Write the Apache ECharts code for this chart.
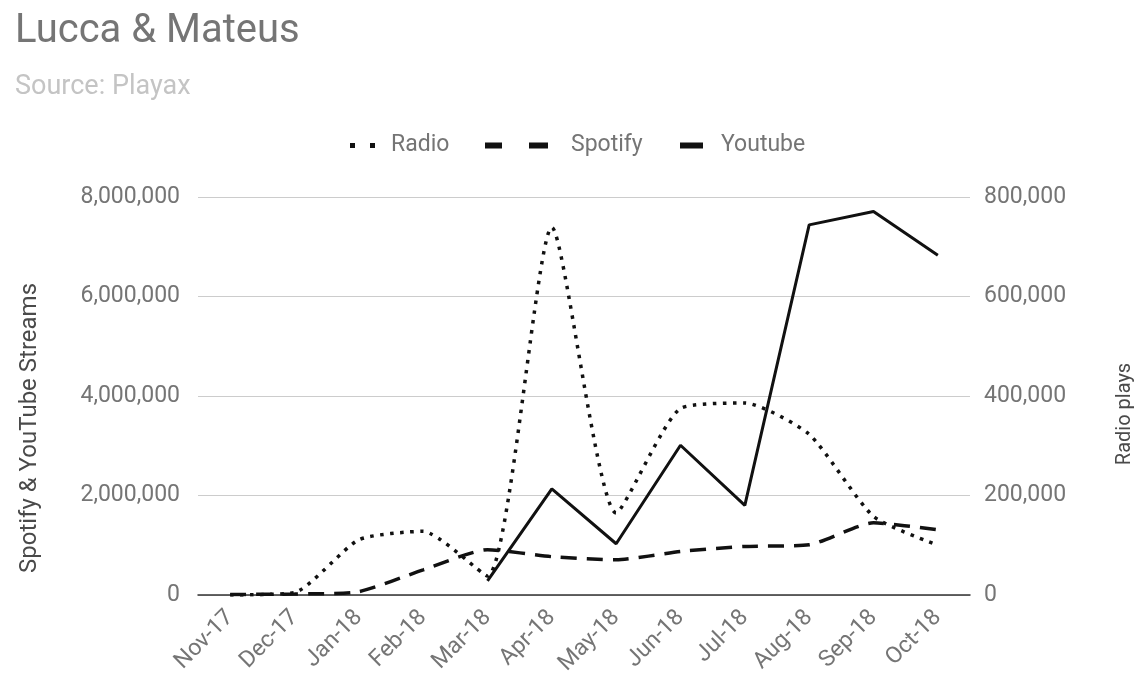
<!DOCTYPE html>
<html><head><meta charset="utf-8">
<script src="https://cdn.jsdelivr.net/npm/echarts@6/dist/echarts.min.js"></script>
<style>html,body{margin:0;padding:0;background:#fff}#c{width:1148px;height:682px}</style>
</head><body><div id="c"></div>
<script>
const categories = ['Nov-17','Dec-17','Jan-18','Feb-18','Mar-18','Apr-18','May-18','Jun-18','Jul-18','Aug-18','Sep-18','Oct-18'];
const radio = [0, 5000, 111000, 128000, 38000, 739000, 165000, 375000, 386000, 323000, 158000, 100000];
const spotify = [10000, 20000, 67000, 505000, 910000, 770000, 707000, 875000, 976000, 1010000, 1450000, 1310000];
const youtube = [null, null, null, null, 283000, 2135000, 1030000, 3010000, 1800000, 7440000, 7710000, 6830000];
const leftTicks = [0, 2000000, 4000000, 6000000, 8000000];
const rightTicks = [0, 200000, 400000, 600000, 800000];

const fmt = v => v.toLocaleString('en-US');
const font = 'Roboto, "Noto Sans", sans-serif';
const lineColor = '#111';
const legendText = { fontSize: 23, color: '#757575', fontFamily: font };
const chart = echarts.init(document.getElementById('c'));
chart.setOption({
  animation: false,
  textStyle: { fontFamily: font },
  title: {
    text: 'Lucca & Mateus', subtext: 'Source: Playax', left: 10, top: 7, itemGap: 22,
    textStyle: { fontSize: 40, fontWeight: 'normal', color: '#757575', fontFamily: font },
    subtextStyle: { fontSize: 27, color: '#c4c4c4', fontFamily: font }
  },
  legend: [
    {
      data: [{ name: 'Radio', icon: 'path://M0,0h5v5h-5z M20,0h5v5h-5z' }],
      left: 345, top: 129, itemWidth: 25, itemHeight: 5, symbolKeepAspect: false,
      textStyle: Object.assign({ padding: [0, 0, 0, 11] }, legendText)
    },
    {
      data: [{ name: 'Spotify', icon: 'path://M0,0h17v6h-17z M44,0h19v6h-19z' }],
      left: 480, top: 129, itemWidth: 63, itemHeight: 6, symbolKeepAspect: false,
      textStyle: Object.assign({ padding: [0, 0, 0, 18] }, legendText)
    },
    {
      data: [{ name: 'Youtube', icon: 'path://M0,0h23v6h-23z' }],
      left: 675, top: 129, itemWidth: 23, itemHeight: 6, symbolKeepAspect: false,
      textStyle: Object.assign({ padding: [0, 0, 0, 13] }, legendText)
    }
  ],
  grid: { left: 198, right: 178, top: 197, bottom: 87 },
  xAxis: {
    type: 'category', data: categories, boundaryGap: true,
    axisLine: { lineStyle: { color: '#333', width: 1.5 } },
    axisTick: { show: false },
    axisLabel: { rotate: 45, fontSize: 23, color: '#757575', margin: 19, fontFamily: font }
  },
  yAxis: [
    {
      type: 'value', min: leftTicks[0], max: leftTicks[leftTicks.length - 1], interval: 2000000,
      name: 'Spotify & YouTube Streams', nameLocation: 'middle', nameGap: 156, nameRotate: 90,
      nameTextStyle: { fontSize: 24, color: '#4a4a4a', fontFamily: font, padding: [0, 64, 0, 0] },
      axisLine: { show: false }, axisTick: { show: false },
      axisLabel: { fontSize: 23, color: '#757575', margin: 18, formatter: fmt, fontFamily: font },
      splitLine: { lineStyle: { color: '#cccccc', width: 1 } }
    },
    {
      type: 'value', min: rightTicks[0], max: rightTicks[rightTicks.length - 1], interval: 200000,
      name: 'Radio plays', nameLocation: 'middle', nameGap: 145, nameRotate: 90,
      nameTextStyle: { fontSize: 20, color: '#4a4a4a', fontFamily: font, padding: [0, 36, 0, 0] },
      axisLine: { show: false }, axisTick: { show: false },
      axisLabel: { fontSize: 23, color: '#757575', margin: 14, formatter: fmt, fontFamily: font },
      splitLine: { show: false }
    }
  ],
  series: [
    {
      name: 'Radio', type: 'line', yAxisIndex: 1, data: radio, smooth: 0.2, symbol: 'none',
      lineStyle: { color: lineColor, width: 3.5, type: [3.5, 6.5], cap: 'butt' }, itemStyle: { color: lineColor }
    },
    {
      name: 'Spotify', type: 'line', yAxisIndex: 0, data: spotify, smooth: 0.2, symbol: 'none',
      lineStyle: { color: lineColor, width: 3.5, type: [16, 10], cap: 'butt' }, itemStyle: { color: lineColor }
    },
    {
      name: 'Youtube', type: 'line', yAxisIndex: 0, data: youtube, symbol: 'none',
      lineStyle: { color: lineColor, width: 3 }, itemStyle: { color: lineColor }
    }
  ]
});
</script></body></html>
